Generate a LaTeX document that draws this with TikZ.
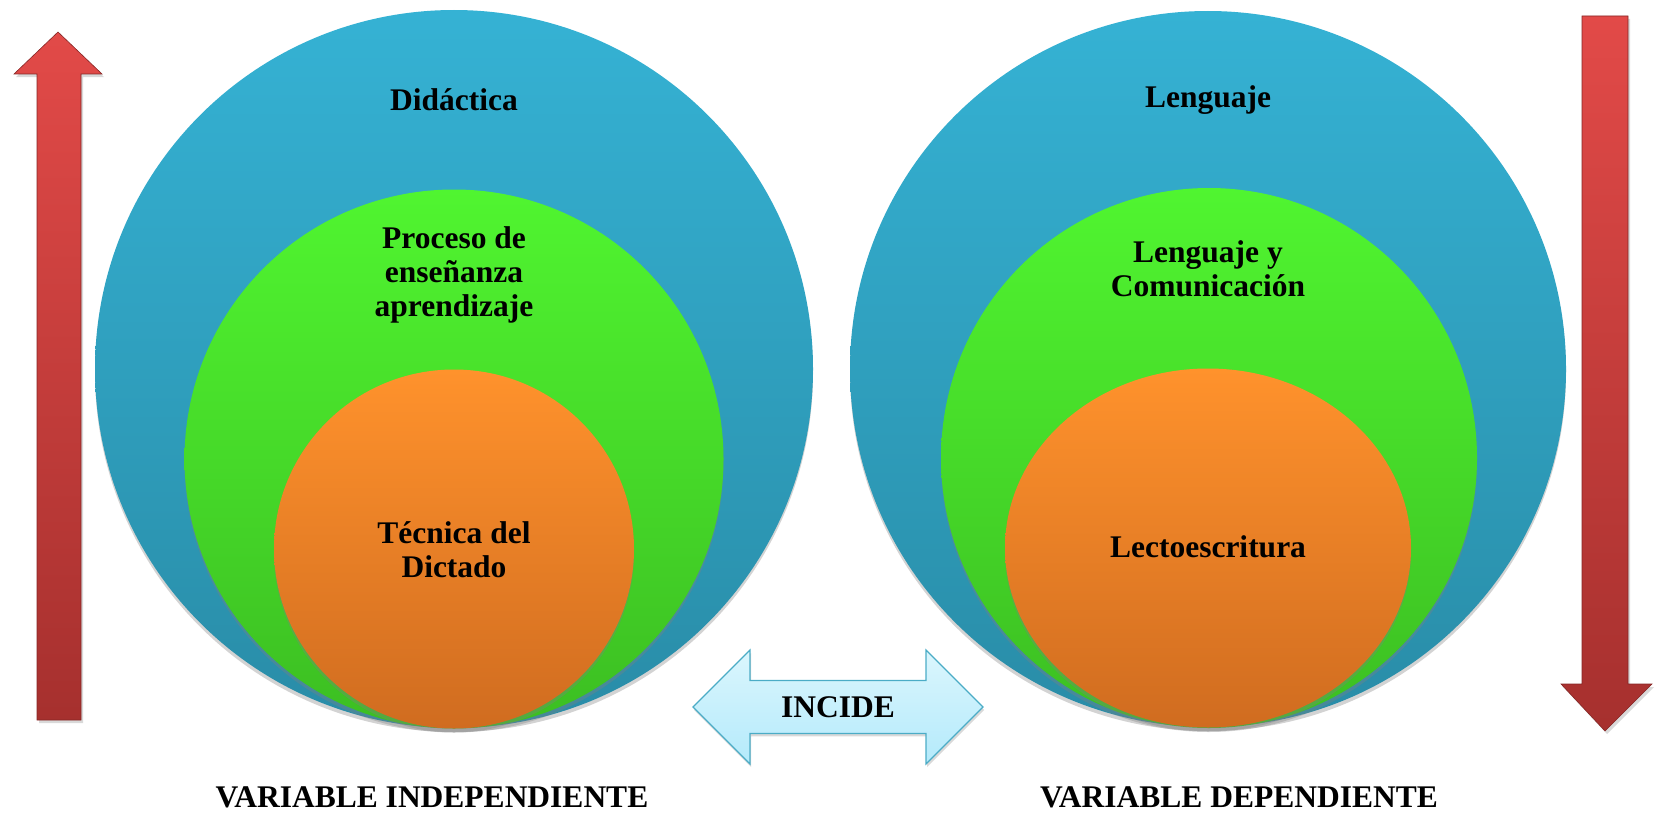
\documentclass[tikz,border=0pt]{standalone}
\usepackage{fontspec}
\setmainfont{Liberation Serif}
\usetikzlibrary{shapes.geometric,shapes.arrows,shadows}

\definecolor{blueTop}{RGB}{53,178,212}
\definecolor{blueBot}{RGB}{41,140,167}
\definecolor{greenTop}{RGB}{80,245,48}
\definecolor{greenBot}{RGB}{60,190,34}
\definecolor{orangeTop}{RGB}{255,146,44}
\definecolor{orangeBot}{RGB}{208,108,32}
\definecolor{redTop}{RGB}{226,74,72}
\definecolor{redBot}{RGB}{166,48,46}
\definecolor{skyTop}{RGB}{219,246,253}
\definecolor{skyBot}{RGB}{180,234,251}
\definecolor{skyLine}{RGB}{75,172,198}

\begin{document}
\begin{tikzpicture}[x=1pt,y=-1pt]
    % `outer', `middle' and `inner' are the three nested discs.
    % `word' is used for every text, `bigarrow' for the red arrows.
    \tikzstyle{disc} = [draw=none,inner sep=0pt,
                        drop shadow={shadow xshift=0pt,shadow yshift=-4pt,opacity=0.35}]
    \tikzstyle{outer} = [disc,circle,top color=blueTop,bottom color=blueBot]
    \tikzstyle{middle} = [disc,ellipse,top color=greenTop,bottom color=greenBot]
    \tikzstyle{inner} = [disc,ellipse,top color=orangeTop,bottom color=orangeBot]
    \tikzstyle{word} = [font=\fontsize{31.5}{34}\selectfont\bfseries,align=center,inner sep=0pt]
    \tikzstyle{bigarrow} = [top color=redTop,bottom color=redBot,draw=redBot!80!black,
                            line width=0.6pt,
                            drop shadow={shadow xshift=2pt,shadow yshift=-3pt,opacity=0.3}]
    %
    \useasboundingbox (0,0) rectangle (1654,816);
    %
    % Left side: independent variable.
    \node[outer, minimum size=718pt] (did) at (454,369) {};
    \node[middle, minimum width=539pt, minimum height=539pt] (proc) at (454,459) {};
    \node[inner, minimum width=360pt, minimum height=359pt] (tec) at (454,549) {};
    \node[word] (didtxt) at (454,100) {Didáctica};
    \node[word] (proctxt) at (454,275) {Proceso de\\enseñanza\\aprendizaje};
    \node[word] (tectxt) at (454,550) {Técnica del\\Dictado};
    %
    % Right side: dependent variable.
    \node[outer, minimum size=716pt] (len) at (1208,369) {};
    \node[middle, minimum width=536pt, minimum height=540pt] (com) at (1209,458) {};
    \node[inner, minimum width=406pt, minimum height=359pt] (lec) at (1208,548) {};
    \node[word] (lentxt) at (1208,100) {Lenguaje};
    \node[word] (comtxt) at (1208,269) {Lenguaje y\\Comunicación};
    \node[word] (lectxt) at (1208,547) {Lectoescritura};
    %
    % Red arrows at the edges.
    \coordinate (upTip) at (58,32);
    \coordinate (downTip) at (1605,731);
    \path[bigarrow] (upTip) -- (102,74) -- (81,74) -- (81,720) -- (37,720)
                    -- (37,74) -- (14,74) -- cycle;
    \path[bigarrow] (downTip) -- (1652,684) -- (1628,684) -- (1628,16) -- (1582,16)
                    -- (1582,684) -- (1561,684) -- cycle;
    %
    % Middle arrow between both sides.
    \node[double arrow, draw=skyLine, line width=1.2pt, top color=skyTop,
          bottom color=skyBot, minimum width=114pt, minimum height=290pt,
          word, inner xsep=0pt, inner ysep=13pt,
          double arrow head extend=28pt, double arrow tip angle=90,
          drop shadow={shadow xshift=1pt,shadow yshift=-3pt,opacity=0.3}]
          (incide) at (838,707) {INCIDE};
    %
    \node[word] (vi) at (432,797) {VARIABLE INDEPENDIENTE};
    \node[word] (vd) at (1239,797) {VARIABLE DEPENDIENTE};
\end{tikzpicture}
\end{document}
